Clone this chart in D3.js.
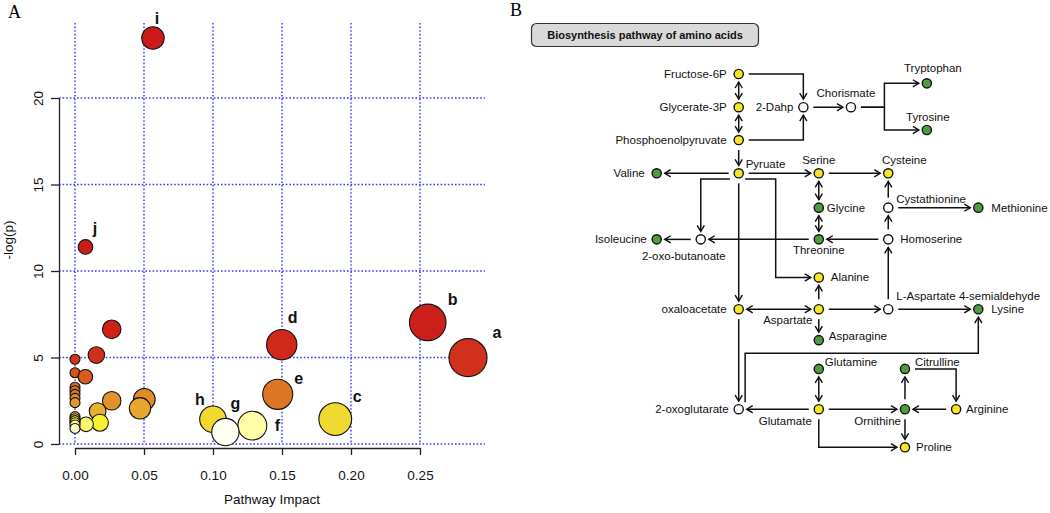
<!DOCTYPE html>
<html><head><meta charset="utf-8">
<script src="https://cdn.jsdelivr.net/npm/d3@7"></script>
<style>
html,body{margin:0;padding:0;background:#fff;}
svg{display:block;font-family:"Liberation Sans",Arial,sans-serif;}
</style></head><body>
<svg id="chart" width="1050" height="513"></svg>
<script>
// ---------------- Panel A data ----------------
const pathwayLabels = ["i","j","b","a","d","e","c","h","f","g",
  "","","","","","","","","","","","","","","","","","","","","",""];
const pathwayImpact = [0.0565,0.0076,0.2556,0.2848,0.1498,0.1469,0.1886,0.1000,0.1285,0.1090,
  0.0266,0.0155,0.0,0.0,0.0075,0.0,0.0,0.0,0.0,0.0,
  0.0266,0.0502,0.0471,0.0164,0.0180,0.0080,0.0,0.0,0.0,0.0,0.0,0.0];
const negLogP = [23.47,11.39,7.03,4.99,5.74,2.87,1.44,1.43,1.06,0.69,
  6.63,5.14,4.90,4.12,3.89,3.28,3.08,2.87,2.64,2.39,
  2.50,2.58,2.06,1.90,1.23,1.14,1.58,1.46,1.35,1.23,1.10,0.90];
const impactTicks = [0,0.05,0.10,0.15,0.20,0.25];
const logpTicks = [0,5,10,15,20];

// ---------------- Panel B data ----------------
const metabolites = ["Fructose-6P","Glycerate-3P","Phosphoenolpyruvate","Pyruate","Valine","2-Dahp",
  "Chorismate","Tryptophan","Tyrosine","Serine","Cysteine","Glycine","Threonine","Cystathionine",
  "Methionine","Homoserine","Isoleucine","2-oxo-butanoate","Alanine","oxaloacetate","Aspartate",
  "L-Aspartate 4-semialdehyde","Lysine","Asparagine","Glutamine","Citrulline","2-oxoglutarate",
  "Glutamate","Ornithine","Arginine","Proline"];
const metaboliteStatus = ["up","up","up","up","aa","none",
  "none","aa","aa","up","up","aa","aa","none",
  "aa","none","aa","none","up","up","up",
  "none","aa","aa","aa","aa","none",
  "up","aa","up","up"];
// reactions: [from, to, arrows, elbows]
const reactions = [
  ["Fructose-6P","Glycerate-3P","both"],
  ["Glycerate-3P","Phosphoenolpyruvate","both"],
  ["Phosphoenolpyruvate","Pyruate","end"],
  ["Fructose-6P","2-Dahp","end",[[45.6,0]]],
  ["Phosphoenolpyruvate","2-Dahp","end",[[45.6,17.7]]],
  ["2-Dahp","Chorismate","end"],
  ["Chorismate","Tryptophan","end",[[70.8,8.9],[70.8,2.5]]],
  ["Chorismate","Tyrosine","end",[[70.8,8.9],[70.8,15.0]]],
  ["Pyruate","Valine","end"],
  ["Pyruate","Serine","end"],
  ["Serine","Cysteine","end"],
  ["Serine","Glycine","both"],
  ["Glycine","Threonine","both"],
  ["Threonine","2-oxo-butanoate","end"],
  ["Homoserine","Threonine","end"],
  ["Homoserine","Cystathionine","end"],
  ["Cystathionine","Cysteine","end"],
  ["Cystathionine","Methionine","end"],
  ["2-oxo-butanoate","Isoleucine","end"],
  [[22.8,28.1],"2-oxo-butanoate","end",[[13.7,28.1]]],
  [[27.5,28.1],"Alanine","end",[[37,28.1],[37,54.5]]],
  ["Pyruate","oxaloacetate","end"],
  ["Aspartate","oxaloacetate","both"],
  ["Aspartate","Alanine","end"],
  ["Aspartate","Asparagine","end"],
  ["Aspartate","L-Aspartate 4-semialdehyde","end"],
  ["L-Aspartate 4-semialdehyde","Homoserine","end"],
  ["L-Aspartate 4-semialdehyde","Lysine","end"],
  [[27.5,87.9],"Lysine","end",[[27.5,74.8],[100,74.8]]],
  ["oxaloacetate","2-oxoglutarate","end"],
  ["Glutamate","2-oxoglutarate","end"],
  ["Glutamine","Glutamate","both"],
  ["Glutamate","Ornithine","end"],
  ["Glutamate","Proline","end",[[50.4,100]]],
  ["Ornithine","Citrulline","end"],
  ["Citrulline","Arginine","end",[[93.1,79.0]]],
  ["Arginine","Ornithine","end"],
  ["Ornithine","Proline","end"]
];

// ---------------- Layout / style ----------------
const labelNudge = {i:[4,-20], j:[9.5,-19], b:[25,-23], a:[29,-25], d:[11,-27],
  e:[21,-16], c:[22,-23], f:[25,0], h:[-13,-20], g:[10,-29]};
const heatStops  = [0.69,1.06,1.23,1.45,1.9,2.5,2.9,3.9,5.0,7,24];
const heatColors = ["#fffff4","#ffffa8","#f8f030","#f0d830","#e8ae30","#e2922a",
  "#dc7424","#d85a20","#d0301c","#cc1e1a","#cc1a1a"];
// diagram grid positions (col,row in 0..100 units) and label placement
const nodeLayout = {
  "Fructose-6P":[25.5,0,-12,0,"end"],
  "Glycerate-3P":[25.5,8.9,-12,0,"end"],
  "Phosphoenolpyruvate":[25.5,17.7,-12,0,"end"],
  "Pyruate":[25.5,26.6,7,-9,"start"],
  "Valine":[0,26.6,-12,0,"end"],
  "2-Dahp":[45.6,8.9,-10,0,"end"],
  "Chorismate":[60.4,8.9,-5,-14,"middle"],
  "Tryptophan":[84.0,2.5,6,-15,"middle"],
  "Tyrosine":[84.0,15.0,1,-13,"middle"],
  "Serine":[50.4,26.6,0,-13,"middle"],
  "Cysteine":[72.0,26.6,16,-13,"middle"],
  "Glycine":[50.4,35.8,8,0,"start"],
  "Threonine":[50.4,44.3,0,11,"middle"],
  "Cystathionine":[72.0,35.8,8,-9,"start"],
  "Methionine":[100,35.8,13,0,"start"],
  "Homoserine":[72.0,44.3,12,0,"start"],
  "Isoleucine":[0,44.3,-10,0,"end"],
  "2-oxo-butanoate":[13.7,44.3,-17,17,"middle"],
  "Alanine":[50.4,54.5,12,0,"start"],
  "oxaloacetate":[25.5,63.0,-12,0,"end"],
  "Aspartate":[50.4,63.0,-31,11,"middle"],
  "L-Aspartate 4-semialdehyde":[72.0,63.0,8,-13,"start"],
  "Lysine":[100,63.0,13,0,"start"],
  "Asparagine":[50.4,71.3,10,-4,"start"],
  "Glutamine":[50.4,79.0,6,-7,"start"],
  "Citrulline":[77.2,79.0,10,-7,"start"],
  "2-oxoglutarate":[25.5,89.8,-10,0,"end"],
  "Glutamate":[50.4,89.8,-7,11.5,"end"],
  "Ornithine":[77.2,89.8,-4,11.5,"end"],
  "Arginine":[93.1,89.8,10,0,"start"],
  "Proline":[77.2,100,11,0,"start"]
};
const statusFill = {up:"#f7e623", aa:"#4f9b3e", none:"#ffffff"};

const svg = d3.select("#chart");

// ================= Panel A =================
const xA = d3.scaleLinear().domain([0,0.25]).range([75,420]);
const yA = d3.scaleLinear().domain([0,20]).range([444,98]);
const rA = d3.scaleSqrt().domain([0,0.2848]).range([5,19]);
const heat = d3.scaleLinear().domain(heatStops).range(heatColors).clamp(true);
const plotTop = 23, plotLeft = 59, plotRight = 485;

const gA = svg.append("g");
// grid
gA.selectAll("line.vg").data(impactTicks).join("line")
  .attr("x1",d=>xA(d)).attr("x2",d=>xA(d)).attr("y1",plotTop).attr("y2",yA(0))
  .attr("stroke","#3838f5").attr("stroke-width",1.4).attr("stroke-dasharray","1.6,2");
gA.selectAll("line.hg").data(logpTicks).join("line")
  .attr("x1",plotLeft).attr("x2",plotRight).attr("y1",d=>yA(d)).attr("y2",d=>yA(d))
  .attr("stroke","#3838f5").attr("stroke-width",1.4).attr("stroke-dasharray","1.6,2");

// axes
const axX = gA.append("g").attr("transform",`translate(0,${yA(0)+4})`)
  .call(d3.axisBottom(xA).tickValues(impactTicks).tickFormat(d3.format(".2f"))
    .tickSize(7).tickSizeOuter(0).tickPadding(15));
const axY = gA.append("g").attr("transform",`translate(${plotLeft},0)`)
  .call(d3.axisLeft(yA).tickValues(logpTicks).tickSize(8).tickSizeOuter(0));
[axX,axY].forEach(a=>{
  a.selectAll("path,line").attr("stroke","#222").attr("stroke-width",1.3);
  a.selectAll("text").attr("font-size",13.5).attr("fill","#111")
   .attr("font-family",'"Liberation Sans",Arial,sans-serif');
});
axY.selectAll("text").attr("x",0).attr("y",-21).attr("dy","0.35em")
  .attr("text-anchor","middle").attr("transform","rotate(-90)");

gA.append("text").attr("x",(plotLeft+plotRight)/2).attr("y",504)
  .attr("text-anchor","middle").attr("font-size",13.5).attr("fill","#111").text("Pathway Impact");
gA.append("text").attr("transform",`translate(13,${240}) rotate(-90)`)
  .attr("text-anchor","middle").attr("font-size",13.5).attr("fill","#111").text("-log(p)");

// bubbles
const pts = pathwayImpact.map((v,i)=>({x:v,y:negLogP[i],lab:pathwayLabels[i]}));
gA.selectAll("circle.pt").data(pts).join("circle")
  .attr("cx",d=>xA(d.x)).attr("cy",d=>yA(d.y)).attr("r",d=>rA(d.x))
  .attr("fill",d=>heat(d.y)).attr("stroke","#111").attr("stroke-width",1.1);
gA.selectAll("text.lab").data(pts.filter(d=>d.lab)).join("text")
  .attr("x",d=>xA(d.x)+labelNudge[d.lab][0]).attr("y",d=>yA(d.y)+labelNudge[d.lab][1])
  .attr("dy","0.35em").attr("text-anchor","middle").attr("font-weight","bold")
  .attr("font-size",16).attr("fill","#111").text(d=>d.lab);

svg.append("text").attr("x",8).attr("y",18).attr("font-family",'"Liberation Serif",serif')
  .attr("font-size",18).text("A");

// ================= Panel B =================
const xB = d3.scaleLinear().domain([0,100]).range([656.7,978.3]);
const yB = d3.scaleLinear().domain([0,100]).range([74,447.3]);
const gB = svg.append("g");

svg.append("text").attr("x",510).attr("y",16).attr("font-family",'"Liberation Serif",serif')
  .attr("font-size",18).text("B");

gB.append("rect").attr("x",531.5).attr("y",23.5).attr("width",227).attr("height",23)
  .attr("rx",5).attr("fill","#d9d9d9").attr("stroke","#333").attr("stroke-width",1.2);
gB.append("text").attr("x",645).attr("y",35).attr("dy","0.35em").attr("text-anchor","middle")
  .attr("font-weight","bold").attr("font-size",11).attr("fill","#111")
  .text("Biosynthesis pathway of amino acids");

const defs = svg.append("defs");
defs.append("marker").attr("id","arr").attr("viewBox","-8 -5 10 10")
  .attr("refX",0).attr("refY",0).attr("markerWidth",10).attr("markerHeight",10)
  .attr("markerUnits","userSpaceOnUse").attr("orient","auto-start-reverse")
  .append("path").attr("d","M-6,-3.6L0,0L-6,3.6").attr("fill","none")
  .attr("stroke","#111").attr("stroke-width",1.4);

const nodePos = name => [xB(nodeLayout[name][0]), yB(nodeLayout[name][1])];
function pt(p){ return typeof p === "string" ? nodePos(p) : [xB(p[0]),yB(p[1])]; }
function unit(a,b){ const dx=b[0]-a[0], dy=b[1]-a[1], l=Math.hypot(dx,dy)||1; return [dx/l,dy/l]; }

const rxnData = reactions.map(r=>{
  const [from,to,arr,via] = r;
  const mids = (via||[]).map(v=>[xB(v[0]),yB(v[1])]);
  let s = pt(from), e = pt(to);
  const nextS = mids.length?mids[0]:e, prevE = mids.length?mids[mids.length-1]:s;
  if (typeof from === "string"){ const u=unit(s,nextS), g=arr==="both"?8:10; s=[s[0]+u[0]*g,s[1]+u[1]*g]; }
  if (typeof to === "string"){ const u=unit(prevE,e); e=[e[0]-u[0]*8,e[1]-u[1]*8]; }
  return {pts:[s,...mids,e], both:arr==="both"};
});
gB.selectAll("path.rxn").data(rxnData).join("path")
  .attr("d",d=>d3.line()(d.pts)).attr("fill","none").attr("stroke","#111")
  .attr("stroke-width",1.5).attr("marker-end","url(#arr)")
  .attr("marker-start",d=>d.both?"url(#arr)":null);

const nodes = metabolites.map((m,i)=>({name:m,status:metaboliteStatus[i]}));
gB.selectAll("circle.node").data(nodes).join("circle")
  .attr("cx",d=>nodePos(d.name)[0]).attr("cy",d=>nodePos(d.name)[1]).attr("r",4.6)
  .attr("fill",d=>statusFill[d.status]).attr("stroke","#111").attr("stroke-width",1.4);
gB.selectAll("text.node").data(nodes).join("text")
  .attr("x",d=>nodePos(d.name)[0]+nodeLayout[d.name][2])
  .attr("y",d=>nodePos(d.name)[1]+nodeLayout[d.name][3])
  .attr("dy","0.35em").attr("text-anchor",d=>nodeLayout[d.name][4])
  .attr("font-size",11.5).attr("fill","#111").text(d=>d.name);
</script>
</body></html>
